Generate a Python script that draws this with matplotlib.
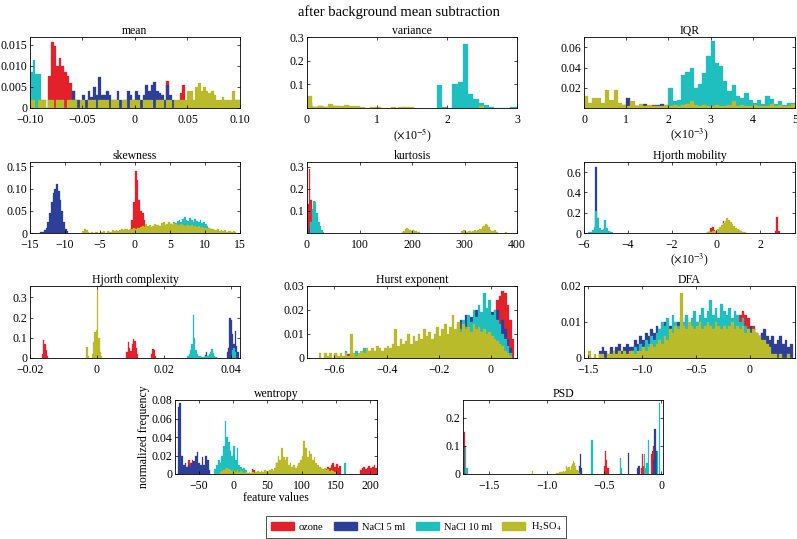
import numpy as np
import matplotlib
matplotlib.use('Agg')
import matplotlib.pyplot as plt
from matplotlib.patches import Patch

plt.rcParams['font.family'] = ['Liberation Serif', 'DejaVu Serif']
plt.rcParams['mathtext.fontset'] = 'stix'
plt.rcParams['axes.unicode_minus'] = True

W, H = 797, 539

series_names = ['ozone', 'NaCl 5 ml', 'NaCl 10 ml', r'H$_2$SO$_4$']
colors = ['#e4202a', '#2d3f99', '#1fbfc0', '#b9bb2b']

# ---- data: histogram heights, keyed by start of first bin ----
# mean (bin 0.0025, heights x1e-3)
mean_ozone = {-0.0825: [7.5, 15.8, 14.8, 10, 12, 10, 8.5, 7.5, 6, 4],
              0.03: [6.5, 2], 0.0425: [3.5, 5.5], -0.095: [2], 0.0: [2]}
mean_nacl5 = {-0.06: [4, 2, 2, 0, 3, 2, 4, 2.5, 5, 3, 7.3, 3, 3, 4, 3, 2, 2, 4, 2, 0,
                      2, 4, 3, 2, 4, 3, 2, 3, 5.5, 4, 5.5, 6.3, 4, 3.5, 3, 2, 5.5, 3, 2, 1]}
mean_nacl10 = {-0.1: [8.5, 11.5, 8, 8, 2, 2, 0, 2, 0, 0, 2, 0, 2, 0, 0, 2, 0, 2, 0, 0],
               0.0925: [2, 2, 2]}
mean_h2so4 = {-0.1: [2, 2, 0, 2, 2, 2, 0, 2, 2, 0, 2, 2, 2, 0, 2, 2, 2, 2, 0, 2,
                     2, 0, 2, 2, 2, 0, 2, 2, 2, 2, 0, 2, 2, 2, 0, 2, 2, 0, 2, 2,
                     2, 2, 0, 2, 2, 2, 2, 0, 2, 2, 2, 0, 2, 2, 0, 2, 2, 2, 2, 2,
                     4, 4, 2, 5, 6, 4, 5, 4, 3.5, 4, 3, 2, 2, 2.5, 2, 2, 2, 4, 2, 2]}

# variance (bin 0.075, x in 1e-5)
var_ozone = {0.0: [0.02, 0, 0.01, 0, 0, 0.008, 0, 0, 0.005]}
var_nacl5 = {0.0: [0.012, 0.005, 0, 0.004, 0.006]}
var_nacl10 = {1.85: [0.097, 0.005, 0, 0.1, 0.11, 0.27, 0.058, 0.037, 0.02, 0.012, 0.004,
                     0, 0, 0, 0.003, 0.003]}
var_h2so4 = {0.0: [0.05, 0.005, 0.008, 0.005, 0.015, 0.01, 0.008, 0.012, 0.01, 0.01, 0.003,
                   0, 0.003, 0.004, 0, 0, 0.003, 0, 0.003],
             1.3: [0.003, 0.004, 0.003], 2.45: [0.01]}

# IQR (bin 0.1, x in 1e-3)
iqr_ozone = {0.0: [0.004, 0.003, 0.004, 0.002, 0.003, 0.004, 0.002, 0.003, 0.002, 0.003,
                   0.002, 0.003, 0.002, 0, 0.002, 0, 0.003, 0.002, 0.002, 0.003]}
iqr_nacl5 = {0.8: [0.002, 0.002, 0.01, 0.003, 0.002, 0.002, 0.004, 0.002, 0.002, 0.003,
                   0.004, 0.002]}
iqr_nacl10 = {2.0: [0.02, 0.007, 0.008, 0.033, 0.036, 0.04, 0.02, 0.024, 0.035, 0.052,
                    0.066, 0.045, 0.042, 0.027, 0.017, 0.023, 0.012, 0.01, 0.015, 0.008,
                    0.005, 0.008, 0.004, 0.012, 0.009, 0.004, 0.007, 0.003, 0.005, 0.005]}
iqr_h2so4 = {0.0: [0.012, 0.005, 0.01, 0.01, 0.005, 0.018, 0.008, 0.018, 0.005, 0.003,
                   0.002, 0.007, 0.002, 0.004, 0.002, 0.003, 0.002, 0.002, 0.002, 0.003,
                   0.002, 0.003, 0.002, 0.003, 0.004, 0.007, 0.003, 0.002, 0.003, 0.002,
                   0.002, 0.003, 0.002, 0.002, 0.003, 0.007, 0.002, 0.003, 0.002, 0.002,
                   0.003, 0.002, 0.002, 0.002, 0.004, 0.002, 0.003, 0.002, 0.002, 0.004]}

# skewness (bin 0.25)
skew_ozone = {-1.0: [0.003, 0.01, 0.03, 0.07, 0.14, 0.12, 0.075, 0.05, 0.045, 0.03]}
skew_nacl5 = {-13.5: [0.002, 0.003, 0.006, 0.012, 0.025, 0.045, 0.07, 0.09, 0.1, 0.11,
                      0.095, 0.075, 0.05, 0.025, 0.01, 0.004]}
skew_nacl10 = {4.0: [0.005, 0.008, 0.01, 0.015, 0.02, 0.018, 0.025, 0.022, 0.028, 0.03,
                     0.025, 0.032, 0.035, 0.03, 0.028, 0.034, 0.03, 0.025, 0.032, 0.028,
                     0.025, 0.03, 0.022, 0.025, 0.02, 0.015, 0.012, 0.01, 0.006, 0.005,
                     0.003, 0.002]}
skew_h2so4 = {-7.5: [0.005, 0.008, 0.006, 0.003, 0, 0.002, 0, 0.002, 0.003, 0,
                     0.003, 0.002, 0.004, 0, 0.005, 0.003, 0.002, 0.006, 0.004, 0.006,
                     0.005, 0.007, 0.008, 0.006, 0.01, 0.008, 0.007, 0.01, 0.009, 0.012,
                     0.01, 0.012, 0.011, 0.013, 0.015, 0.014, 0.02, 0.016, 0.018, 0.014,
                     0.016, 0.02, 0.017, 0.019, 0.015, 0.022, 0.025, 0.018, 0.02, 0.024,
                     0.02, 0.018, 0.022, 0.02, 0.019, 0.016, 0.02, 0.018, 0.015, 0.019,
                     0.017, 0.015, 0.018, 0.014, 0.016, 0.013, 0.015, 0.012, 0.014, 0.012,
                     0.011, 0.01, 0.012, 0.008, 0.009, 0.007, 0.006, 0.008, 0.005, 0.006,
                     0.004, 0.006, 0.003, 0.005, 0.004, 0.003, 0.005, 0.002]}

# kurtosis (bin 3)
kurt_ozone = {0.0: [0.13, 0.29, 0.15, 0.04]}
kurt_nacl5 = {3.0: [0.02]}
kurt_nacl10 = {6.0: [0.05, 0.11, 0.145, 0.14, 0.09, 0.05, 0.03, 0.015, 0.005]}
kurt_h2so4 = {180.0: [0.005, 0.01, 0.018, 0.022, 0.02, 0.015, 0.01, 0.012, 0.008, 0.01,
                      0.006, 0.004],
              294.0: [0.01, 0.015, 0.008, 0.006, 0.01, 0.008, 0.005, 0.01, 0.012, 0.01,
                      0.015, 0.018, 0.02, 0.025, 0.03, 0.04, 0.035, 0.025, 0.015, 0.01,
                      0.008, 0.012, 0.005],
              378.0: [0.004]}

# Hjorth mobility (bin 0.08, x in 1e-3)
hmob_ozone = {-0.35: [0.01, 0.05, 0.06, 0.03, 0.01], 0.21: [0.03, 0.12, 0.05],
              2.65: [0.02, 0.16, 0.02]}
hmob_nacl5 = {-5.48: [0.65]}
hmob_nacl10 = {-5.8: [0.005, 0.01, 0.03, 0.06, 0.22, 0.15, 0.05, 0.03, 0.04, 0.13, 0.05,
                      0.02, 0.01, 0.005]}
hmob_h2so4 = {-0.5: [0.003, 0.005, 0.008, 0.01, 0.015, 0.02, 0.03, 0.04, 0.06, 0.08, 0.1,
                     0.12, 0.15, 0.13, 0.11, 0.09, 0.07, 0.05, 0.04, 0.03, 0.02, 0.01,
                     0.005, 0.003]}

# Hjorth complexity (bin 0.0004)
hcom_ozone = {-0.0165: [0.02, 0.09, 0.07, 0.04, 0.01],
              0.0088: [0.03, 0.08, 0.05, 0.035, 0.07, 0.095, 0.085, 0.05, 0.02],
              0.0162: [0.02, 0.045, 0.04, 0.01]}
hcom_nacl5 = {0.0322: [0.015, 0.03, 0.01],
              0.0388: [0.03, 0.05, 0.2, 0.19, 0.12, 0.07, 0.135, 0.06, 0.03]}
hcom_nacl10 = {0.027: [0.01, 0.02, 0.04, 0.07, 0.215, 0.1, 0.04, 0.02, 0.01, 0.008, 0.005,
                       0.005, 0.006, 0.008, 0.01, 0.01, 0.02, 0.03, 0.045, 0.025, 0.01,
                       0.005],
               0.0404: [0.04, 0.05, 0.03]}
hcom_h2so4 = {-0.0032: [0.055, 0.01, 0, 0, 0.02, 0.08, 0.13, 0.14, 0.34, 0.1, 0.03, 0.01]}

# Hurst exponent (bin 0.01, heights x1e-3)
hurst_ozone = {-0.03: [6, 10, 12, 15, 20, 24, 26, 28, 27, 22, 16, 8],
               -0.6: [1.5, 0, 0, 0, 0, 1.5], -0.45: [1.5]}
hurst_nacl5 = {-0.13: [10, 16, 12, 18, 14, 17, 12, 20, 15, 18, 16, 20, 17, 19, 15, 20, 14,
                       16, 12, 8, 4]}
hurst_nacl10 = {-0.15: [8, 10, 14, 12, 16, 13, 18, 15, 20, 17, 22, 19, 27, 21, 24, 18, 20,
                        16, 14, 10, 8, 5, 2],
                -0.56: [3, 0, 2, 0, 3, 0, 0, 4, 0, 3, 0, 0, 3]}
hurst_h2so4 = {-0.66: [2, 0, 2, 1, 2, 0, 2, 1, 2, 1,
                       2, 1, 10, 2, 1, 2, 3, 2, 4, 3,
                       4, 3, 5, 4, 3, 4, 5, 4, 6, 12,
                       5, 8, 6, 7, 10, 6, 9, 7, 10, 8,
                       12, 9, 11, 8, 10, 13, 9, 12, 14, 10,
                       13, 18, 12, 15, 11, 14, 12, 13, 11, 14,
                       12, 13, 11, 12, 10, 11, 9, 8, 7, 6,
                       5, 3, 2, 1]}

# DFA (bin 0.025, heights x1e-3)
dfa_ozone = {-0.3: [4, 3, 5, 6, 5, 7, 8, 6, 12, 13, 12, 11, 8, 9, 7, 6, 7, 6, 5, 3],
             -1.3: [2, 0, 0, 0, 0, 0, 0, 0, 3], -0.9: [3, 0, 0, 0, 2]}
dfa_nacl5 = {-1.4: [2, 3, 2, 1, 3, 2, 3, 4, 2, 3, 4, 3, 3, 5, 4, 6,
                    5, 7, 6, 8, 7, 9, 8, 7, 10, 8,
                    9, 8, 7, 10, 9, 8, 11, 9, 8, 7,
                    10, 9, 11, 8, 9, 10, 8, 12, 9, 10,
                    9, 11, 8, 10, 9, 7, 10, 8, 9, 7,
                    9, 8, 7, 6, 7, 8, 6, 5, 6, 4,
                    5, 6, 4, 5, 3, 4]}
dfa_nacl10 = {-1.1: [2, 3, 2, 4, 3, 5, 4, 6, 5, 7,
                     8, 10, 9, 11, 8, 12, 10, 9, 11, 10,
                     12, 9, 11, 13, 10, 12, 14, 11, 13, 16,
                     12, 14, 11, 15, 13, 12, 14, 11, 13, 12,
                     10, 11, 9, 8, 7, 5, 3, 2]}
dfa_h2so4 = {-1.5: [2, 0, 1, 0, 1, 1, 0, 1, 1, 2, 1, 2, 1, 2, 1, 2, 2, 1, 2, 2,
                    3, 2, 3, 4, 3, 4, 5, 4, 6, 5,
                    8, 7, 9, 8, 18, 9, 8, 10, 9, 8,
                    9, 10, 8, 9, 10, 9, 8, 10, 9, 8,
                    9, 8, 9, 10, 8, 9, 8, 9, 7, 8,
                    7, 8, 7, 6, 5, 5, 4, 3, 1, 1,
                    0, 1, 0, 0, 1, 0]}

# wentropy (bin 2.5, heights x1e-3)
went_ozone = {-68.0: [8, 15, 12, 15, 10], 27.0: [5, 4],
              135.0: [5, 8, 6, 10, 12, 8, 11, 6, 9],
              185.0: [4, 6, 8, 5, 7, 9, 6, 8, 10, 7]}
went_nacl5 = {-81.0: [72, 77, 20, 10, 12, 8, 10, 6, 12, 14, 20, 24, 12, 10, 18, 10, 20, 15, 4],
              62.5: [12]}
went_nacl10 = {-27.5: [5, 10, 15, 12, 20, 30, 57, 40, 35, 25, 20, 30, 15, 28, 10, 8, 5, 6, 4],
               162.5: [12]}
went_h2so4 = {0.0: [3, 2, 4, 2, 3, 2, 1, 2, 1, 2,
                    1, 2, 1, 2, 3, 2, 3, 2, 4, 3,
                    3, 4, 5, 3, 6, 12, 20, 15, 28, 18,
                    15, 18, 10, 12, 8, 10, 7, 9, 12, 15,
                    20, 36, 28, 18, 25, 22, 15, 18, 12, 10,
                    8, 6, 5, 7, 4, 5, 3, 4, 3, 2],
              -20.0: [2, 3, 4, 5, 6, 5, 4, 3]}

# PSD (bin 0.01)
psd_ozone = {-1.72: [0.15, 0.02], -0.5: [0.03, 0.08, 0.05, 0.02],
             -0.18: [0.02, 0.07, 0.03], -0.09: [0.07, 0.08, 0.1, 0.05, 0.02]}
psd_nacl5 = {-1.71: [0.02], -0.72: [0.03, 0.07, 0.02], -0.29: [0.075],
             -0.21: [0.02, 0.03], -0.07: [0.05, 0.16, 0.08]}
psd_nacl10 = {-1.71: [0.1, 0.02], -0.61: [0.12], -0.36: [0.055, 0.02],
              -0.15: [0.07, 0.02, 0.04, 0.12], -0.04: [0.08], -0.02: [0.25]}
psd_h2so4 = {-1.13: [0.01],
             -0.92: [0.004, 0.005, 0.003, 0.006, 0.008, 0.006, 0.01, 0.008, 0.012, 0.03,
                     0.02, 0.025, 0.015, 0.03, 0.035, 0.045, 0.04, 0.03, 0.015, 0.01, 0.005]}


def rect(l, t, r, b):
    return [l / W, 1 - b / H, (r - l) / W, (b - t) / H]


def hist(ax, w, scale, data):
    for segs, c in zip(data, colors):
        for x0, h in segs.items():
            h = np.asarray(h, float) * scale
            ax.bar(x0 + w * np.arange(len(h)), h, width=w, align='edge',
                   color=c, edgecolor=c, linewidth=0.2)


def fmt(v):
    return v.replace('-', '\u2212')


# title, rect, bin, scale, data, xlim, ylim, xticks, xlabels, yticks, ylabels, xunit
panels = [
    ('mean', rect(30, 37, 240, 108), 0.0025, 1e-3,
     [mean_ozone, mean_nacl5, mean_nacl10, mean_h2so4],
     (-0.1, 0.1), (0, 0.0169), [-0.1, -0.05, 0, 0.05, 0.1],
     ['-0.10', '-0.05', '0', '0.05', '0.10'],
     [0, 0.005, 0.01, 0.015], ['0', '0.005', '0.010', '0.015'], None),
    ('variance', rect(307, 37, 517, 108), 0.075, 1,
     [var_ozone, var_nacl5, var_nacl10, var_h2so4],
     (0, 3), (0, 0.3), [0, 1, 2, 3], ['0', '1', '2', '3'],
     [0.1, 0.2, 0.3], ['0.1', '0.2', '0.3'], r'($\times$10$^{-5}$)'),
    ('IQR', rect(584, 37, 795, 108), 0.1, 1,
     [iqr_ozone, iqr_nacl5, iqr_nacl10, iqr_h2so4],
     (0, 5), (0, 0.0704), [0, 1, 2, 3, 4, 5], ['0', '1', '2', '3', '4', '5'],
     [0.02, 0.04, 0.06], ['0.02', '0.04', '0.06'], r'($\times$10$^{-3}$)'),
    ('skewness', rect(30, 162, 240, 233), 0.25, 1,
     [skew_ozone, skew_nacl5, skew_nacl10, skew_h2so4],
     (-15, 15), (0, 0.16), [-15, -10, -5, 0, 5, 10, 15],
     ['-15', '-10', '-5', '0', '5', '10', '15'],
     [0, 0.05, 0.1, 0.15], ['0', '0.05', '0.10', '0.15'], None),
    ('kurtosis', rect(307, 162, 517, 233), 3, 1,
     [kurt_ozone, kurt_nacl5, kurt_nacl10, kurt_h2so4],
     (0, 400), (0, 0.322), [0, 100, 200, 300, 400], ['0', '100', '200', '300', '400'],
     [0.1, 0.2, 0.3], ['0.1', '0.2', '0.3'], None),
    ('Hjorth mobility', rect(584, 162, 795, 233), 0.08, 1,
     [hmob_ozone, hmob_nacl5, hmob_nacl10, hmob_h2so4],
     (-6, 3.58), (0, 0.7), [-6, -4, -2, 0, 2], ['-6', '-4', '-2', '0', '2'],
     [0, 0.2, 0.4, 0.6], ['0', '0.2', '0.4', '0.6'], r'($\times$10$^{-3}$)'),
    ('Hjorth complexity', rect(30, 286, 240, 358), 0.0004, 1,
     [hcom_ozone, hcom_nacl5, hcom_nacl10, hcom_h2so4],
     (-0.02, 0.0428), (0, 0.357), [-0.02, 0, 0.02, 0.04], ['-0.02', '0', '0.02', '0.04'],
     [0, 0.1, 0.2, 0.3], ['0', '0.1', '0.2', '0.3'], None),
    ('Hurst exponent', rect(307, 286, 517, 358), 0.01, 1e-3,
     [hurst_ozone, hurst_nacl5, hurst_nacl10, hurst_h2so4],
     (-0.705, 0.1), (0, 0.03), [-0.6, -0.4, -0.2, 0], ['-0.6', '-0.4', '-0.2', '0'],
     [0, 0.01, 0.02, 0.03], ['0', '0.01', '0.02', '0.03'], None),
    ('DFA', rect(584, 286, 795, 358), 0.025, 1e-3,
     [dfa_ozone, dfa_nacl5, dfa_nacl10, dfa_h2so4],
     (-1.54, 0.42), (0, 0.02), [-1.5, -1.0, -0.5, 0], ['-1.5', '-1.0', '-0.5', '0'],
     [0, 0.01, 0.02], ['0', '0.01', '0.02'], None),
    ('wentropy', rect(175, 400, 377, 474), 2.5, 1e-3,
     [went_ozone, went_nacl5, went_nacl10, went_h2so4],
     (-85, 210), (0, 0.08), [-50, 0, 50, 100, 150, 200],
     ['-50', '0', '50', '100', '150', '200'],
     [0, 0.02, 0.04, 0.06, 0.08], ['0', '0.02', '0.04', '0.06', '0.08'], None),
    ('PSD', rect(463, 400, 663, 474), 0.01, 1,
     [psd_ozone, psd_nacl5, psd_nacl10, psd_h2so4],
     (-1.73, 0.015), (0, 0.262), [-1.5, -1.0, -0.5, 0], ['-1.5', '-1.0', '-0.5', '0'],
     [0, 0.1, 0.2], ['0', '0.1', '0.2'], None),
]

fig = plt.figure(figsize=(W / 100, H / 100), dpi=100)

for (title, r, w, scale, data, xl, yl, xt, xtl, yt, ytl, xunit) in panels:
    ax = fig.add_axes(r)
    hist(ax, w, scale, data)
    ax.set_xlim(*xl)
    ax.set_ylim(*yl)
    ax.set_xticks(xt, [fmt(s) for s in xtl])
    ax.set_yticks(yt, ytl)
    ax.tick_params(direction='in', length=2.5, width=0.5, top=True, right=True,
                   labelsize=8.5)
    ax.tick_params(axis='x', pad=4.5)
    ax.tick_params(axis='y', pad=2)
    for sp in ax.spines.values():
        sp.set_linewidth(0.6)
    ax.set_title(title, fontsize=8.5, pad=2)
    if xunit:
        ax.set_xlabel(xunit, fontsize=8.5, labelpad=0)
    if title == 'wentropy':
        ax.set_xlabel('feature values', fontsize=8.5, labelpad=0)
        ax.set_ylabel('normalized frequency', fontsize=8.5, labelpad=1)

fig.text(0.5, 1 - 12 / H, 'after background mean subtraction', ha='center', va='center',
         fontsize=10.5)

handles = [Patch(facecolor=c, edgecolor=c) for c in colors]
leg = fig.legend(handles, series_names, loc='center', bbox_to_anchor=(416 / W, 1 - 527 / H),
                 ncol=4, fontsize=7.5, frameon=True, fancybox=False, edgecolor='black',
                 handlelength=2.2, handleheight=0.85, columnspacing=1.0, handletextpad=0.5,
                 borderpad=0.45, borderaxespad=0)
leg.get_frame().set_linewidth(0.6)

fig.savefig('out.png', dpi=100)
